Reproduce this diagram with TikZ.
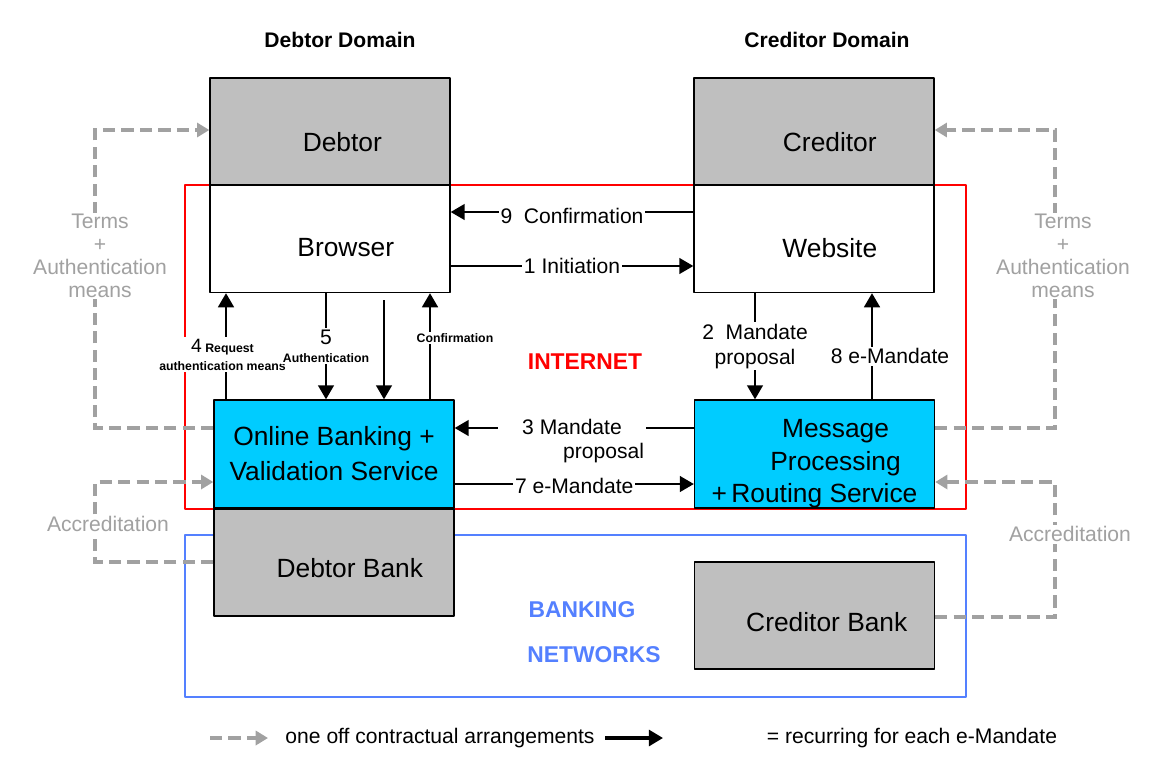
\documentclass[tikz,border=0pt]{standalone}
\usepackage{fontspec}
\setmainfont{Liberation Sans}
\usepackage{tikz}
\usetikzlibrary{arrows,arrows.meta}
\definecolor{cqcqcq}{rgb}{0.75,0.75,0.75}
\definecolor{qqccff}{rgb}{0,0.8,1}
\definecolor{ffqqqq}{rgb}{1,0,0}
\definecolor{zzttff}{rgb}{0.33,0.5,1}
\definecolor{aaaaaa}{rgb}{0.63,0.63,0.63}
\newcommand{\lowtext}[2]{\raisebox{-#1}[\height][\depth]{#2}}

\begin{document}
\begin{tikzpicture}[line cap=round,line join=round,>={Triangle[length=8pt,width=9pt]},x=0.02cm,y=-0.02cm,
    box/.style={draw=black,line width=0.8pt,minimum width=4.8cm,minimum height=2.14cm,inner sep=0pt,font=\fontsize{15}{19}\selectfont,align=center},
    flow/.style={->,line width=1.2pt,line cap=butt},
    contract/.style={-{Triangle[length=7pt,width=8pt]},color=aaaaaa,line width=2.2pt,dash pattern=on 7pt off 3.5pt,line cap=butt,line join=miter},
    msg/.style={fill=white,inner sep=1pt,font=\fontsize{12}{14}\selectfont,align=center},
    tinylbl/.style={fill=white,inner sep=1pt,font=\fontsize{7}{10}\selectfont\bfseries,align=center},
    note/.style={fill=white,inner sep=1pt,text=aaaaaa,font=\fontsize{12}{13}\selectfont,align=center}]
  \useasboundingbox (0,0) rectangle (1149,778);
  % domains
  \draw[color=ffqqqq,line width=1.2pt] (185,185) rectangle (966,509);
  \draw[color=zzttff,line width=1.2pt] (185,535) rectangle (966,697);
  \node[font=\bfseries\fontsize{12}{14}\selectfont] (debdom) at (340,40) {Debtor Domain};
  \node[font=\bfseries\fontsize{12}{14}\selectfont] (creddom) at (827,40) {Creditor Domain};
  \node[font=\bfseries\fontsize{13}{15}\selectfont,color=ffqqqq] (inet) at (585,362) {INTERNET};
  \node[font=\bfseries\fontsize{13}{15}\selectfont,color=zzttff] (bank1) at (582,610) {BANKING};
  \node[font=\bfseries\fontsize{13}{15}\selectfont,color=zzttff] (bank2) at (594,655) {NETWORKS};
  % boxes
  \node[box,fill=cqcqcq] (debtor) at (330,131.5) {\lowtext{6pt}{\hspace*{14pt}Debtor}};
  \node[box,fill=white] (browser) at (330,239) {\lowtext{5pt}{\hspace*{18pt}Browser}};
  \node[box,fill=cqcqcq] (creditor) at (814,131.5) {\lowtext{6pt}{\hspace*{18pt}Creditor}};
  \node[box,fill=white] (website) at (814,239) {\lowtext{5pt}{\hspace*{18pt}Website}};
  \node[box,fill=qqccff,minimum height=2.16cm,font=\fontsize{15}{20}\selectfont] (online) at (334,454) {Online Banking +\\Validation Service};
  \node[box,fill=cqcqcq] (debtbank) at (334,562.5) {\lowtext{3pt}{\hspace*{18pt}Debtor Bank}};
  \node[box,fill=qqccff,minimum height=2.16cm,font=\fontsize{15}{18.5}\selectfont] (message) at (814.5,454) {\lowtext{5.5pt}{\hspace*{24pt}Message}\\\lowtext{5.5pt}{\hspace*{24pt}Processing}\\\lowtext{5.5pt}{+\,Routing Service}};
  \node[box,fill=cqcqcq] (credbank) at (814.5,615.5) {\lowtext{4pt}{\hspace*{14pt}Creditor Bank}};
  % recurring flows
  \draw[flow] (website.west |- 0,212) -- (browser.east |- 0,212) node[msg,midway,yshift=-2pt] {9~ Confirmation};
  \draw[flow] (browser.east |- 0,266) -- (website.west |- 0,266) node[msg,midway] {1 Initiation};
  \draw[flow] (online.north -| 226,0) -- (browser.south -| 226,0) node[tinylbl,pos=0.42,xshift=-2pt] {{\fontsize{11}{10}\mdseries 4} Request\\authentication means};
  \draw[flow] (browser.south -| 326,0) -- (online.north -| 326,0) node[tinylbl,midway] {{\fontsize{12}{10}\mdseries 5}\\Authentication};
  \coordinate (authfree) at (384,300);
  \draw[flow] (authfree) -- (online.north -| 384,0);
  \draw[flow] (online.north -| 430,0) -- (browser.south -| 430,0);
  \node[tinylbl] (conflbl) at (455,338) {Confirmation};
  \draw[flow] (website.south -| 755,0) -- (message.north -| 755,0) node[msg,midway] {2~ Mandate\\proposal};
  \draw[flow] (message.north -| 872,0) -- (website.south -| 872,0);
  \node[msg] (emlbl) at (890,356) {8 e-Mandate};
  \draw[flow] (message.west |- 0,428) -- (online.east |- 0,428);
  \node[msg] (mplbl) at (572,441) {3 Mandate\\\hspace*{3em}proposal};
  \draw[flow] (online.east |- 0,484) -- (message.west |- 0,484) node[msg,midway,yshift=-1pt] {7 e-Mandate};
  % one off arrangements
  \draw[contract] (online.west |- 0,428) -- (95,428) -- (95,130) -- (debtor.west |- 0,130);
  \node[note] (termsl) at (100,256) {Terms\\+\\Authentication\\means};
  \draw[contract] (debtbank.west |- 0,562) -- (95,562) -- (95,482) -- (online.west |- 0,482);
  \node[note] (accl) at (108,524) {Accreditation};
  \draw[contract] (message.east |- 0,428) -- (1055,428) -- (1055,130) -- (creditor.east |- 0,130);
  \node[note] (termsr) at (1063,256) {Terms\\+\\Authentication\\means};
  \draw[contract] (credbank.east |- 0,617) -- (1055,617) -- (1055,482) -- (message.east |- 0,482);
  \node[note] (accr) at (1070,534) {Accreditation};
  % legend
  \coordinate (lega) at (210,738);
  \coordinate (legb) at (268,738);
  \draw[contract] (lega) -- (legb);
  \node[font=\fontsize{12}{14}\selectfont] (legtxta) at (440,738) {one off contractual arrangements};
  \coordinate (legc) at (605,738);
  \coordinate (legd) at (663,738);
  \draw[flow,line width=1.8pt] (legc) -- (legd);
  \node[font=\fontsize{12}{14}\selectfont] (legtxtb) at (912,738) {= recurring for each e-Mandate};
\end{tikzpicture}
\end{document}
